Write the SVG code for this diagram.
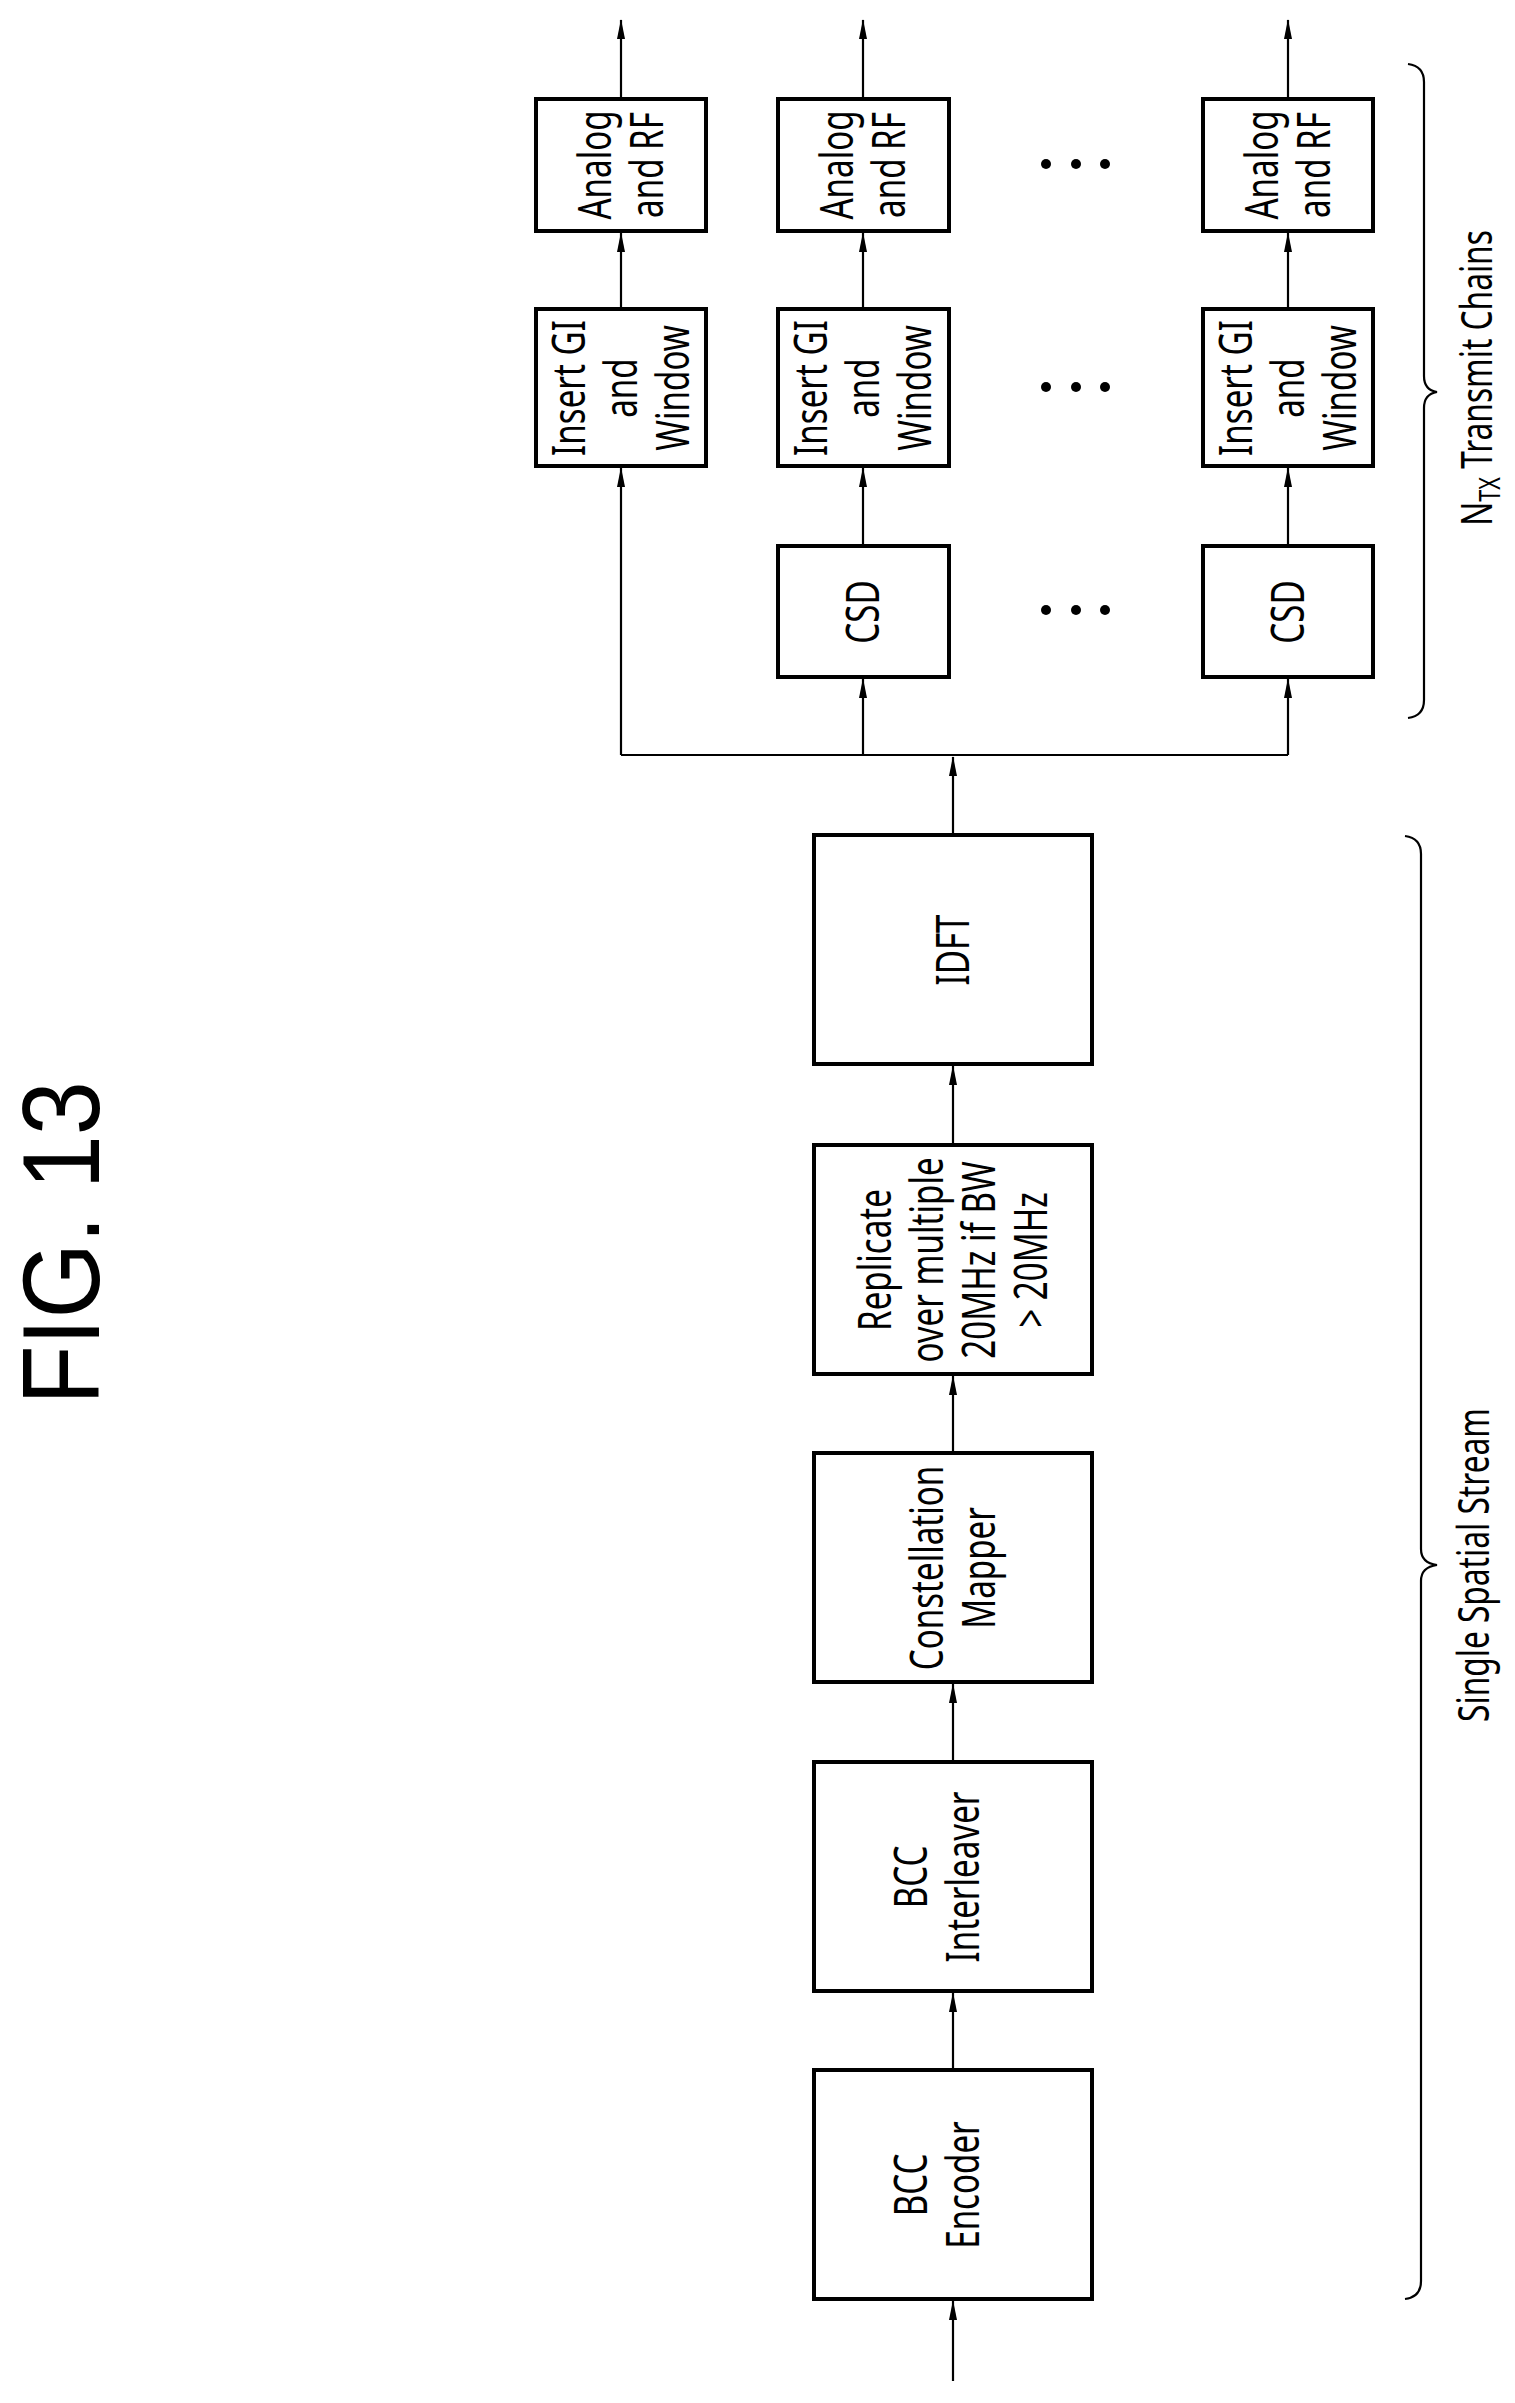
<svg xmlns="http://www.w3.org/2000/svg" width="1515" height="2403" viewBox="0 0 1515 2403">
<style>
.b{fill:#fff;stroke:#000;stroke-width:4}
.c{fill:none;stroke:#000;stroke-width:2.2}
.t{font-family:"Noto Sans",sans-serif;font-size:46px;text-anchor:middle;fill:#000}
.l{font-family:"Noto Sans",sans-serif;font-size:44px;fill:#000}
</style>
<defs>
<marker id="a" markerUnits="userSpaceOnUse" markerWidth="20" markerHeight="10" refX="19" refY="5" orient="auto"><path d="M0,1 L20,5 L0,9 Z" fill="#000"/></marker>
</defs>
<rect width="1515" height="2403" fill="#fff"/>
<text transform="translate(99,1243) rotate(-90) scale(0.89,1)" style="font-family:'Liberation Sans',sans-serif;font-size:109px;text-anchor:middle">FIG. 13</text>
<g id="connectors" class="c">
<path d="M953,2381 V2301" marker-end="url(#a)"/>
<path d="M953,2070 V1993" marker-end="url(#a)"/>
<path d="M953,1762 V1684" marker-end="url(#a)"/>
<path d="M953,1453 V1376" marker-end="url(#a)"/>
<path d="M953,1145 V1066" marker-end="url(#a)"/>
<path d="M953,835 V757" marker-end="url(#a)"/>
<path d="M621,755 H1288"/>
<path d="M621,755 V468" marker-end="url(#a)"/>
<path d="M863,755 V679" marker-end="url(#a)"/>
<path d="M1288,755 V679" marker-end="url(#a)"/>
<path d="M863,546 V468" marker-end="url(#a)"/>
<path d="M1288,546 V468" marker-end="url(#a)"/>
<path d="M621,309 V233" marker-end="url(#a)"/>
<path d="M863,309 V233" marker-end="url(#a)"/>
<path d="M1288,309 V233" marker-end="url(#a)"/>
<path d="M621,99 V20" marker-end="url(#a)"/>
<path d="M863,99 V20" marker-end="url(#a)"/>
<path d="M1288,99 V20" marker-end="url(#a)"/>
<path d="M1408,64 Q1424,66 1424,82 L1424,376 Q1424,390 1437,392 Q1424,394 1424,408 L1424,700 Q1424,716 1408,718"/>
<path d="M1405,836 Q1421,838 1421,854 L1421,1549 Q1421,1563 1437,1565 Q1421,1567 1421,1581 L1421,2281 Q1421,2297 1405,2299"/>
</g>
<g id="enc"><rect class="b" x="814" y="2070" width="278" height="229"/>
<text class="t" transform="translate(927,2185) rotate(-90) scale(0.72,1)">BCC</text>
<text class="t" transform="translate(979,2185) rotate(-90) scale(0.72,1)">Encoder</text></g>
<g id="intl"><rect class="b" x="814" y="1762" width="278" height="229"/>
<text class="t" transform="translate(927,1877) rotate(-90) scale(0.72,1)">BCC</text>
<text class="t" transform="translate(979,1877) rotate(-90) scale(0.72,1)">Interleaver</text></g>
<g id="cmap"><rect class="b" x="814" y="1453" width="278" height="229"/>
<text class="t" transform="translate(943,1568) rotate(-90) scale(0.72,1)">Constellation</text>
<text class="t" transform="translate(995,1568) rotate(-90) scale(0.72,1)">Mapper</text></g>
<g id="repl"><rect class="b" x="814" y="1145" width="278" height="229"/>
<text class="t" transform="translate(891,1260) rotate(-90) scale(0.72,1)">Replicate</text>
<text class="t" transform="translate(943,1260) rotate(-90) scale(0.72,1)">over multiple</text>
<text class="t" transform="translate(995,1260) rotate(-90) scale(0.72,1)">20MHz if BW</text>
<text class="t" transform="translate(1047,1260) rotate(-90) scale(0.72,1)">&gt; 20MHz</text></g>
<g id="idft"><rect class="b" x="814" y="835" width="278" height="229"/>
<text class="t" transform="translate(969,950) rotate(-90) scale(0.72,1)">IDFT</text></g>
<g id="csd2"><rect class="b" x="778" y="546" width="171" height="131"/>
<text class="t" transform="translate(879,612) rotate(-90) scale(0.72,1)">CSD</text></g>
<g id="csd3"><rect class="b" x="1203" y="546" width="170" height="131"/>
<text class="t" transform="translate(1304,612) rotate(-90) scale(0.72,1)">CSD</text></g>
<g id="gi1"><rect class="b" x="536" y="309" width="170" height="157"/>
<text class="t" transform="translate(585,388) rotate(-90) scale(0.72,1)">Insert GI</text>
<text class="t" transform="translate(637,388) rotate(-90) scale(0.72,1)">and</text>
<text class="t" transform="translate(689,388) rotate(-90) scale(0.72,1)">Window</text></g>
<g id="gi2"><rect class="b" x="778" y="309" width="171" height="157"/>
<text class="t" transform="translate(827,388) rotate(-90) scale(0.72,1)">Insert GI</text>
<text class="t" transform="translate(879,388) rotate(-90) scale(0.72,1)">and</text>
<text class="t" transform="translate(931,388) rotate(-90) scale(0.72,1)">Window</text></g>
<g id="gi3"><rect class="b" x="1203" y="309" width="170" height="157"/>
<text class="t" transform="translate(1252,388) rotate(-90) scale(0.72,1)">Insert GI</text>
<text class="t" transform="translate(1304,388) rotate(-90) scale(0.72,1)">and</text>
<text class="t" transform="translate(1356,388) rotate(-90) scale(0.72,1)">Window</text></g>
<g id="rf1"><rect class="b" x="536" y="99" width="170" height="132"/>
<text class="t" transform="translate(611,165) rotate(-90) scale(0.72,1)">Analog</text>
<text class="t" transform="translate(663,165) rotate(-90) scale(0.72,1)">and RF</text></g>
<g id="rf2"><rect class="b" x="778" y="99" width="171" height="132"/>
<text class="t" transform="translate(853,165) rotate(-90) scale(0.72,1)">Analog</text>
<text class="t" transform="translate(905,165) rotate(-90) scale(0.72,1)">and RF</text></g>
<g id="rf3"><rect class="b" x="1203" y="99" width="170" height="132"/>
<text class="t" transform="translate(1278,165) rotate(-90) scale(0.72,1)">Analog</text>
<text class="t" transform="translate(1330,165) rotate(-90) scale(0.72,1)">and RF</text></g>
<g id="dots" fill="#000">
<circle cx="1046" cy="164" r="5"/><circle cx="1076" cy="164" r="5"/><circle cx="1105" cy="164" r="5"/>
<circle cx="1046" cy="387" r="5"/><circle cx="1076" cy="387" r="5"/><circle cx="1105" cy="387" r="5"/>
<circle cx="1046" cy="610" r="5"/><circle cx="1076" cy="610" r="5"/><circle cx="1105" cy="610" r="5"/>
</g>
<g id="labels">
<text class="l" text-anchor="middle" transform="translate(1492,378) rotate(-90) scale(0.72,1)">N<tspan font-size="30" dy="8">TX</tspan><tspan dy="-8">  Transmit Chains</tspan></text>
<text class="l" text-anchor="middle" transform="translate(1489,1565) rotate(-90) scale(0.72,1)">Single Spatial Stream</text>
</g>
</svg>
